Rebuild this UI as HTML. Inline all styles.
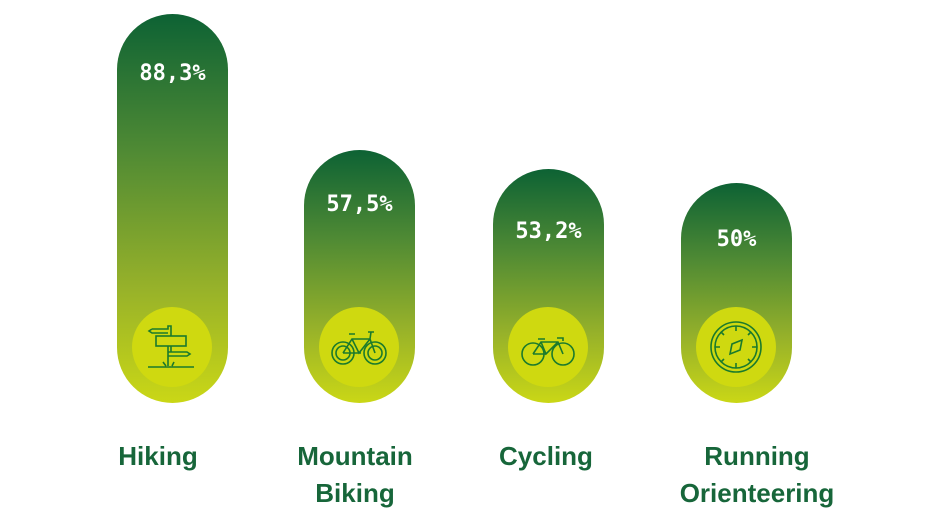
<!DOCTYPE html>
<html><head><style>
body{margin:0;width:941px;height:521px;background:#fff;position:relative;overflow:hidden;font-family:"Liberation Sans",sans-serif}
.bar{position:absolute;width:111px;border-radius:56px;background:linear-gradient(#0d6234,#4f8a34 35%,#96b12a 70%,#cad716)}
.val{position:absolute;left:0;width:100%;text-align:center;color:#fff;font:bold 22px "DejaVu Sans Mono","Liberation Mono",monospace}
.c{position:absolute;width:80px;height:80px;border-radius:50%;background:#cfd910;left:15px;bottom:16px}
.c svg{position:absolute;left:0;top:0}
.lab{position:absolute;width:200px;text-align:center;color:#17663a;font-weight:bold;font-size:26px;line-height:37px}
</style></head><body>
<div class="bar" style="left:117px;top:14px;height:389px"><div class="val" style="top:47px">88,3%</div>
<div class="c"><svg width="80" height="80" fill="none" stroke="#1a7a2c" stroke-width="1.6"><rect x="24" y="29" width="30" height="10"/><path d="M20 22h16v-3h3v5M20 22l-3 2 3 2h16M36 45h19l3 2-3 2H36M36 39v20M39 24v5M39 39v6M16 60h46M34 59l-3-4M40 59l2-4"/></svg></div></div>
<div class="bar" style="left:304px;top:150px;height:253px"><div class="val" style="top:42px">57,5%</div>
<div class="c"><svg width="80" height="80" fill="none" stroke="#1a7a2c" stroke-width="1.6"><circle cx="24" cy="46" r="11"/><circle cx="24" cy="46" r="7"/><circle cx="56" cy="46" r="11"/><circle cx="56" cy="46" r="7"/><path d="M24 46l9-14h18l5 14M33 32l7 14 11-14M42 46h-18M30 27h6M52 25l-1 7M49 25h6"/></svg></div></div>
<div class="bar" style="left:493px;top:169px;height:234px"><div class="val" style="top:50px">53,2%</div>
<div class="c"><svg width="80" height="80" fill="none" stroke="#1a7a2c" stroke-width="1.6"><circle cx="25" cy="47" r="11"/><circle cx="55" cy="47" r="11"/><path d="M25 47l8-12h17l5 12M33 35l5 12 12-12M38 47H25M30 32h7M49 31h6v3"/></svg></div></div>
<div class="bar" style="left:681px;top:183px;height:220px"><div class="val" style="top:44px">50%</div>
<div class="c"><svg width="80" height="80" fill="none" stroke="#1a7a2c" stroke-width="1.6"><circle cx="40" cy="40" r="25"/><circle cx="40" cy="40" r="21"/><path d="M40 19v5M40 56v5M19 40h5M56 40h5M25 25l3 3M55 25l-3 3M25 55l3-3M55 55l-3-3M46 33l-10 4-2 10 10-4z"/></svg></div></div>
<div class="lab" style="left:58px;top:438px">Hiking</div>
<div class="lab" style="left:255px;top:438px">Mountain<br>Biking</div>
<div class="lab" style="left:446px;top:438px">Cycling</div>
<div class="lab" style="left:657px;top:438px">Running<br>Orienteering</div>
</body></html>
